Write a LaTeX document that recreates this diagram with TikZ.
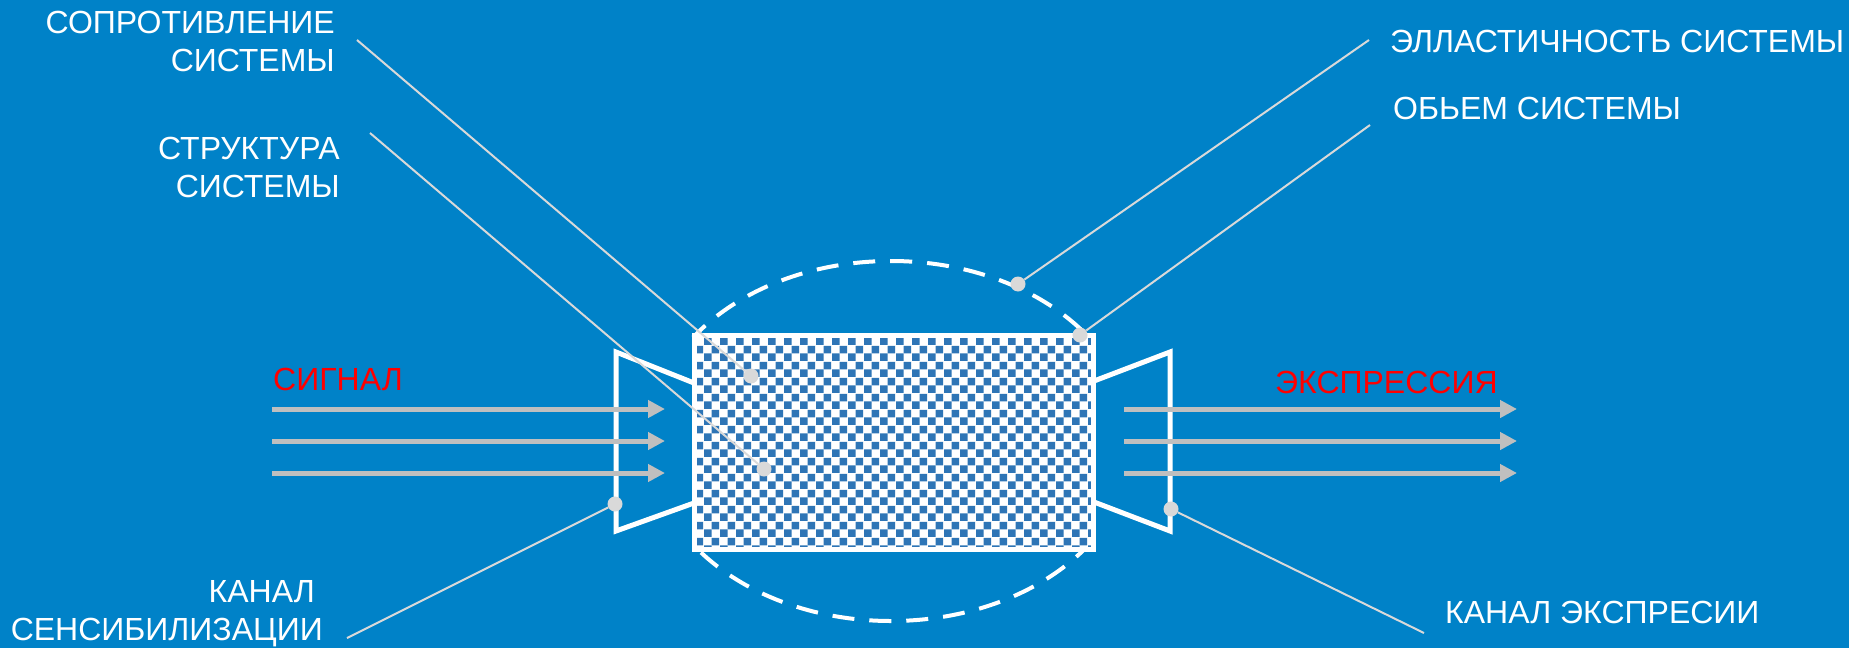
\documentclass[tikz,border=0pt]{standalone}
\usepackage{fontspec}
\setmainfont{Liberation Sans}
\usetikzlibrary{arrows.meta,patterns.meta}
\definecolor{bg}{RGB}{0,130,200}
\definecolor{patblue}{RGB}{46,117,182}
\definecolor{leadgray}{RGB}{217,217,217}
\definecolor{arrgray}{RGB}{191,191,191}
\definecolor{sigred}{RGB}{255,0,0}
\tikzdeclarepattern{
  name=checker,
  bottom left={(0pt,0pt)},
  top right={(16pt,16pt)},
  tile size={(16pt,16pt)},
  code={
    \fill (0pt,0pt) rectangle (8pt,8pt);
    \fill (8pt,8pt) rectangle (16pt,16pt);
  }
}
\begin{document}
\begin{tikzpicture}[x=1pt,y=-1pt,
  lbl/.style={text=white,inner sep=0pt,font=\fontsize{32}{37.5}\selectfont},
  redlbl/.style={text=sigred,inner sep=0pt,font=\fontsize{32}{37.5}\selectfont},
  dot/.style={circle,fill=leadgray,inner sep=0pt,minimum size=15pt},
  leader/.style={draw=leadgray,line width=2pt},
  funnel/.style={draw=white,line width=5pt,line join=miter},
  sig/.style={draw=arrgray,line width=5pt,-{Triangle[length=17pt,width=17pt]}},
  halo/.style={draw=white,line width=4pt,dash pattern=on 22pt off 15pt}
]
\fill[bg] (0,0) rectangle (1849,648);
\useasboundingbox (0,0) rectangle (1849,648);

% dashed ellipse (volume), visible above and below the box only
\begin{scope}
  \clip (0,0) rectangle (1849,336) (0,549) rectangle (1849,648);
  \draw[halo] (891,441) ellipse [x radius=242, y radius=180];
\end{scope}

% channels
\draw[funnel] (694,383) -- (616,352) -- (616,531) -- (694,503);
\draw[funnel] (1094,381) -- (1170,352) -- (1170,531) -- (1094,502);

% system box
\node[draw=white,line width=5pt,preaction={fill=white},pattern=checker,pattern color=patblue,
      minimum width=399pt,minimum height=214pt,inner sep=0pt] (sys) at (894,442.5) {};

% signal arrows
\draw[sig] (272,409) -- (665,409);
\draw[sig] (272,441) -- (665,441);
\draw[sig] (272,473) -- (665,473);
\draw[sig] (1124,409) -- (1517,409);
\draw[sig] (1124,441) -- (1517,441);
\draw[sig] (1124,473) -- (1517,473);

% dots
\node[dot] (dres) at (751,376) {};
\node[dot] (dstr) at (764,469) {};
\node[dot] (dela) at (1018,284) {};
\node[dot] (dvol) at (1080,335) {};
\node[dot] (dsen) at (615,504) {};
\node[dot] (dexp) at (1171,509) {};

% labels
\node[lbl,align=right,anchor=base east] (tres) at (335,71) {СОПРОТИВЛЕНИЕ\\СИСТЕМЫ};
\node[lbl,align=right,anchor=base east] (tstr) at (340,197) {СТРУКТУРА\\СИСТЕМЫ};
\node[lbl,anchor=base west] (tela) at (1390,52) {ЭЛЛАСТИЧНОСТЬ СИСТЕМЫ};
\node[lbl,anchor=base west] (tvol) at (1393,119) {ОБЬЕМ СИСТЕМЫ};
\node[lbl,align=right,anchor=base east] (tsen) at (323,640) {КАНАЛ\hspace*{8pt}\\СЕНСИБИЛИЗАЦИИ};
\node[lbl,anchor=base west] (texp) at (1445,623) {КАНАЛ ЭКСПРЕСИИ};
\node[redlbl,anchor=base west] (tsig) at (273,390) {СИГНАЛ};
\node[redlbl,anchor=base west] (texpr) at (1275,393) {ЭКСПРЕССИЯ};

% leader ends
\coordinate (cres) at (357,40);
\coordinate (cstr) at (370,133);
\coordinate (cela) at (1369,40);
\coordinate (cvol) at (1370,125);
\coordinate (csen) at (347,638);
\coordinate (cexp) at (1424,633);

\draw[leader] (cres) -- (dres);
\draw[leader] (cstr) -- (dstr);
\draw[leader] (cela) -- (dela);
\draw[leader] (cvol) -- (dvol);
\draw[leader] (csen) -- (dsen);
\draw[leader] (cexp) -- (dexp);
\end{tikzpicture}
\end{document}
